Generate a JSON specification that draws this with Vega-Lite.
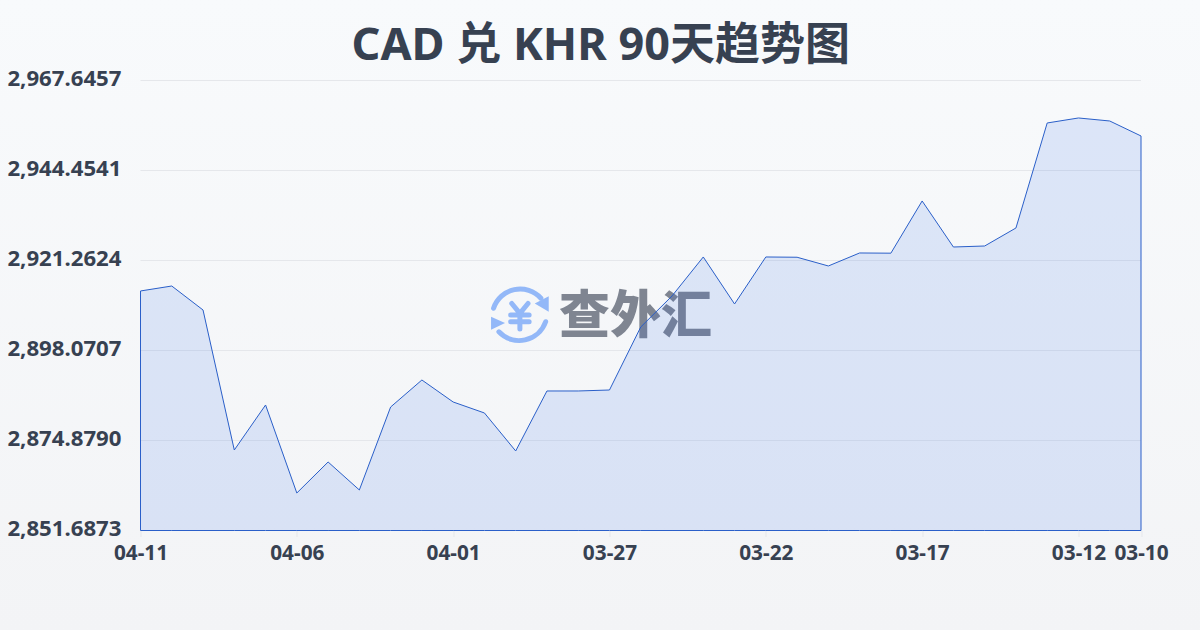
{
"$schema":"https://vega.github.io/schema/vega-lite/v6.json",
"autosize":{"type":"none"},
"width":1000.5,"height":450,
"padding":{"left":140.5,"top":80.5,"right":59,"bottom":99.5},
"background":"#f6f8fa",
"title":{"text":"CAD 兑 KHR 90天趋势图","anchor":"middle","dx":-40,"offset":-69,"font":"Noto Sans, Noto Sans CJK SC","fontSize":45,"fontWeight":"bold","color":"#374151"},
"config":{"view":{"stroke":null},"font":"Noto Sans"},
"data":{"values":[
{"date":"04-11","rate":2913.41},{"date":"04-10","rate":2914.69},{"date":"04-09","rate":2908.51},{"date":"04-08","rate":2872.43},{"date":"04-07","rate":2884.03},{"date":"04-06","rate":2861.35},{"date":"04-05","rate":2869.34},{"date":"04-04","rate":2862.13},{"date":"04-03","rate":2883.51},{"date":"04-02","rate":2890.47},{"date":"04-01","rate":2884.80},{"date":"03-31","rate":2881.97},{"date":"03-30","rate":2872.18},{"date":"03-29","rate":2887.64},{"date":"03-28","rate":2887.64},{"date":"03-27","rate":2887.89},{"date":"03-26","rate":2904.13},{"date":"03-25","rate":2912.12},{"date":"03-24","rate":2922.17},{"date":"03-23","rate":2910.06},{"date":"03-22","rate":2922.17},{"date":"03-21","rate":2922.10},{"date":"03-20","rate":2919.85},{"date":"03-19","rate":2923.20},{"date":"03-18","rate":2923.15},{"date":"03-17","rate":2936.60},{"date":"03-16","rate":2924.74},{"date":"03-15","rate":2925.00},{"date":"03-14","rate":2929.64},{"date":"03-13","rate":2956.70},{"date":"03-12","rate":2957.99},{"date":"03-11","rate":2957.21},{"date":"03-10","rate":2953.35}
]},
"encoding":{
"x":{"field":"date","type":"ordinal","scale":{"type":"point","padding":0,"domain":["04-11","04-10","04-09","04-08","04-07","04-06","04-05","04-04","04-03","04-02","04-01","03-31","03-30","03-29","03-28","03-27","03-26","03-25","03-24","03-23","03-22","03-21","03-20","03-19","03-18","03-17","03-16","03-15","03-14","03-13","03-12","03-11","03-10"]},"title":null,
"axis":{"values":["04-11","04-06","04-01","03-27","03-22","03-17","03-12","03-10"],"labelAngle":0,"labelOverlap":false,"labelFont":"Noto Sans","labelFontSize":20.8,"labelFontWeight":"bold","labelColor":"#374151","domain":false,"tickColor":"#e5e7eb","tickSize":6,"labelPadding":7,"grid":false,"zindex":1}},
"y":{"field":"rate","type":"quantitative","scale":{"domain":[2851.6873,2967.6457],"zero":false,"nice":false},"title":null,
"axis":{"values":[2851.6873,2874.879,2898.0707,2921.2624,2944.4541,2967.6457],"format":",.4f","labelFont":"Noto Sans","labelFontSize":22.2,"labelFontWeight":"bold","labelColor":"#374151","labelPadding":19.5,"ticks":false,"domain":false,"grid":false,"labelOffset":-2,"zindex":1}}
},
"layer":[
{"transform":[{"filter":"datum.date === '04-11'"}],
 "mark":{"type":"rect","fill":{"gradient":"linear","x1":0,"y1":0,"x2":0,"y2":1,"stops":[{"offset":0,"color":"#f8fafc"},{"offset":1,"color":"#f3f4f6"}]},"xOffset":-141,"x2Offset":59,"yOffset":-81,"y2Offset":100},
 "encoding":{"x2":{"datum":"03-10"},"y":{"datum":2967.6457},"y2":{"datum":2851.6873}}},
{"data":{"values":[{"level":2874.879},{"level":2898.0707},{"level":2921.2624},{"level":2944.4541},{"level":2967.6457}]},
 "mark":{"type":"rule","color":"#e5e7eb","strokeWidth":1},
 "encoding":{"x":{"datum":"04-11"},"x2":{"datum":"03-10"},"y":{"field":"level","type":"quantitative"}}},
{"transform":[{"filter":"datum.date === '03-27'"}],
 "mark":{"type":"text","text":"查外汇","font":"Noto Sans CJK SC","fontSize":51,"fontWeight":900,"color":"#6b7280","opacity":0.85,"dx":26,"dy":3,"align":"center","baseline":"middle"},
 "encoding":{"y":{"datum":2907.22}}},
{"transform":[{"filter":"datum.date === '03-30'"}],
 "mark":{"type":"point","shape":"M-0.94,-0.24 A1,1 0 0 1 0.75,-0.6 M0.92,0.24 A1,1 0 0 1 -0.75,0.6 M-0.29,-0.41 L0,-0.06 L0.29,-0.41 M-0.33,0 L0.33,0 M-0.33,0.24 L0.33,0.24 M0,-0.06 L0,0.5","filled":false,"size":3136,"stroke":"#93b8f8","strokeWidth":5,"strokeCap":"round","strokeJoin":"round","opacity":1,"xOffset":4.2},
 "encoding":{"y":{"datum":2907.22}}},
{"transform":[{"filter":"datum.date === '03-30'"}],
 "mark":{"type":"point","shape":"M1.03,-0.67 L1.03,-0.12 L0.53,-0.41 Z M-1.03,0.06 L-1.03,0.53 L-0.53,0.29 Z","filled":true,"size":3136,"fill":"#93b8f8","opacity":1,"xOffset":4.2},
 "encoding":{"y":{"datum":2907.22}}},
{"mark":{"type":"area","fill":"#2563eb","fillOpacity":0.13,"stroke":"#2a5fc9","strokeWidth":1},
 "encoding":{"y2":{"datum":2851.6873}}}
]
}
